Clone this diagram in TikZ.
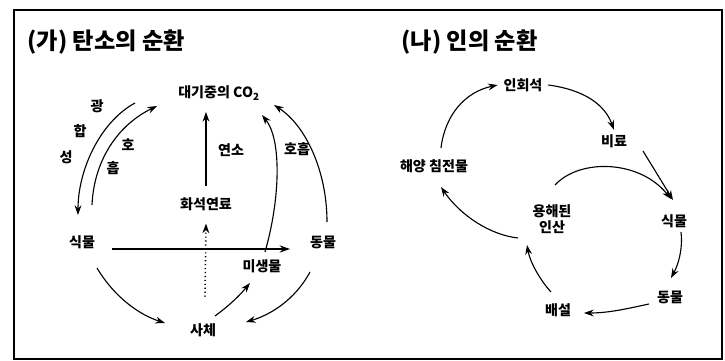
\documentclass[tikz,border=0pt]{standalone}
\usepackage{fontspec}
\newfontfamily\krfont{Noto Sans CJK KR}
\usetikzlibrary{arrows.meta}

\begin{document}
\begin{tikzpicture}[x=0.025cm, y=-0.025cm,
  every node/.style={font=\krfont\bfseries\fontsize{10}{11}\selectfont, inner sep=1pt},
  flow/.style={-{Stealth[length=2.4mm,width=1.7mm]}, line width=0.8pt},
  heading/.style={font=\krfont\bfseries\fontsize{16.5}{18}\selectfont, anchor=west}]

\useasboundingbox (0,0) rectangle (725,361);
\draw[line width=1.2pt] (14,10) rectangle (722,359);

% (ga) carbon cycle
\node[heading] (titleA) at (26,42) {(가) 탄소의 순환};
\node (co2) at (219,93) {대기중의 CO\textsubscript{2}};
\node (fossil) at (206,204) {화석연료};
\node (plantA) at (82,242) {식물};
\node (animalA) at (323,242) {동물};
\node (microbe) at (262,266) {미생물};
\node (corpse) at (203,330) {사체};
\node (gwang) at (97,106) {광};
\node (hap) at (80,131) {합};
\node (seong) at (66,157) {성};
\node (ho) at (128,145) {호};
\node (heup) at (113,168) {흡};
\node (burn) at (231,150) {연소};
\node (respA) at (297,149) {호흡};

\draw[flow] ([shift={(-84,10)}]co2.center) .. controls (100,122) and (78,170) .. ([shift={(-4,-27)}]plantA.center);
\draw[flow] ([shift={(10,-37)}]plantA.center) .. controls (94,160) and (118,125) .. ([shift={(-62,13)}]co2.center);
\draw[flow] ([yshift=7pt]fossil.north) -- (fossil.north |- 0,112);
\draw[flow, dotted, line width=1.1pt] (corpse.north) ++(2,-25) -- ([yshift=-8pt]fossil.south);
\draw[-{Stealth[length=2.6mm,width=1.8mm]}, line width=1.5pt] ([shift={(30,7)}]plantA.center) -- ([shift={(-33,7)}]animalA.center);
\draw[flow] ([shift={(3,-14)}]microbe.center) .. controls (280,200) and (282,140) .. ([shift={(43,22)}]co2.center);
\draw[flow] ([shift={(4,-20)}]animalA.center) .. controls (327,170) and (305,125) .. ([shift={(55,12)}]co2.center);
\draw[flow] ([shift={(15,26)}]plantA.center) .. controls (115,298) and (140,315) .. ([shift={(-38,-7)}]corpse.center);
\draw[flow] ([shift={(-13,30)}]animalA.center) .. controls (295,300) and (270,315) .. ([shift={(43,-8)}]corpse.center);
\draw[flow] ([shift={(12,-14)}]corpse.center) .. controls (230,305) and (240,295) .. ([shift={(-12,17)}]microbe.center);

% (na) phosphorus cycle
\node[heading] (titleB) at (400,42) {(나) 인의 순환};
\node (apatite) at (523,85) {인회석};
\node (fert) at (614,141) {비료};
\node (plantB) at (674,221) {식물};
\node (animalB) at (670,297) {동물};
\node (excr) at (558,310) {배설};
\node[align=center] (phos) at (552,219) {용해된\\인산};
\node (sedim) at (434,166) {해양 침전물};

\draw[flow] ([shift={(7,-18)}]sedim.center) .. controls (445,115) and (465,92) .. ([xshift=-3pt]apatite.west);
\draw[flow] ([xshift=3pt]apatite.east) .. controls (585,90) and (605,105) .. ([yshift=2pt]fert.north);
\draw[flow] ([shift={(29,10)}]fert.center) -- ([shift={(-1,-21)}]plantB.center);
\draw[flow] ([shift={(3,-34)}]phos.center) .. controls (580,158) and (640,160) .. ([shift={(-3,-22)}]plantB.center);
\draw[flow] ([shift={(7,11)}]plantB.center) .. controls (683,250) and (678,265) .. ([shift={(1,-19)}]animalB.center);
\draw[flow] ([shift={(-21,7)}]animalB.center) .. controls (630,308) and (610,313) .. ([shift={(26,3)}]excr.center);
\draw[flow] ([shift={(-7,-18)}]excr.center) .. controls (540,280) and (530,262) .. ([shift={(-25,26)}]phos.center);
\draw[flow] ([shift={(-34,19)}]phos.center) .. controls (490,235) and (460,215) .. ([shift={(7,21)}]sedim.center);

\end{tikzpicture}
\end{document}
